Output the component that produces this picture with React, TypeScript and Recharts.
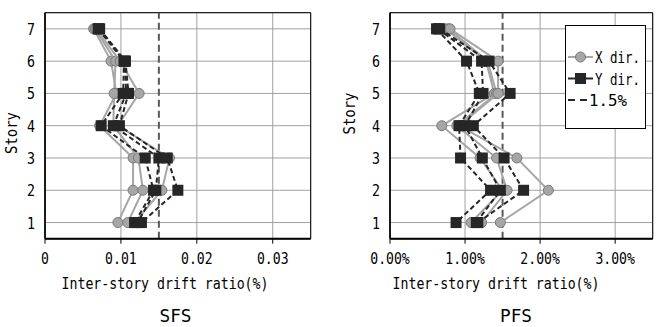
import React from 'react';
import {
  ScatterChart,
  Scatter,
  XAxis,
  YAxis,
  CartesianGrid,
  ReferenceLine,
  ReferenceArea,
  Legend,
} from 'recharts';

// story order as plotted, top to bottom
const stories = [7, 6, 5, 4, 3, 2, 1];
const storyTicks = [1, 2, 3, 4, 5, 6, 7];

// SFS, drift ratio
const sfsX1 = [0.0064, 0.0087, 0.0094, 0.0072, 0.0116, 0.0116, 0.0096];
const sfsX2 = [0.0066, 0.0093, 0.0091, 0.009, 0.0123, 0.0129, 0.0109];
const sfsX3 = [0.0067, 0.0099, 0.0124, 0.0096, 0.0164, 0.0154, 0.0118];
const sfsY1 = [0.007, 0.0104, 0.0103, 0.0074, 0.0132, 0.0143, 0.0118];
const sfsY2 = [0.0071, 0.0105, 0.0107, 0.009, 0.015, 0.0146, 0.0122];
const sfsY3 = [0.0072, 0.0106, 0.011, 0.0098, 0.0161, 0.0175, 0.0127];
const sfsTicks = [0, 0.01, 0.02, 0.03];

// PFS, drift ratio in %
const pfsX1 = [0.74, 1.28, 1.39, 0.69, 1.2, 1.5, 1.08];
const pfsX2 = [0.78, 1.3, 1.42, 0.89, 1.42, 1.56, 1.22];
const pfsX3 = [0.8, 1.44, 1.44, 0.92, 1.69, 2.11, 1.47];
const pfsY1 = [0.62, 1.02, 1.19, 0.92, 0.94, 1.34, 0.88];
const pfsY2 = [0.64, 1.22, 1.24, 1.0, 1.23, 1.47, 1.15];
const pfsY3 = [0.66, 1.32, 1.6, 1.11, 1.52, 1.78, 1.17];
const pfsTicks = [0, 1, 2, 3];

const legendNames = ['X dir.', 'Y dir.', '1.5%'];
const xTitle = 'Inter-story drift ratio(%)';
const yTitle = 'Story';
const panelNames = ['SFS', 'PFS'];

const FONT = '"DejaVu Sans Mono", monospace';
const GRAY = '#a6a6a6';
const DARK = '#262626';

const toPoints = (vals: number[]) => vals.map((v, i) => ({ v, s: stories[i] }));

function T({ x, y, len, size = 16, anchor = 'middle', rotate, children }: any) {
  return (
    <text
      x={x}
      y={y}
      fontSize={size}
      fontFamily={FONT}
      fill="#000"
      textAnchor={anchor}
      textLength={len}
      lengthAdjust="spacingAndGlyphs"
      transform={rotate}
    >
      {children}
    </text>
  );
}

const circleShape = (p: any) => (
  <circle cx={p.cx} cy={p.cy} r={5} fill={GRAY} stroke="#7a7a7a" strokeWidth={1} />
);
const squareShape = (p: any) => (
  <rect x={p.cx - 5.5} y={p.cy - 5.5} width={11} height={11} fill={DARK} />
);

function LegendBox() {
  return (
    <svg width={86} height={104} style={{ display: 'block', overflow: 'visible' }}>
      <rect x={0.5} y={0.5} width={80} height={103} fill="#fff" stroke="#000" strokeWidth={1} />
      <line x1={3} y1={32} x2={28} y2={32} stroke={GRAY} strokeWidth={2} />
      <circle cx={15.5} cy={32} r={5} fill={GRAY} stroke="#7a7a7a" />
      <T x={30} y={38} len={45} anchor="start">{legendNames[0]}</T>
      <line x1={3} y1={53.5} x2={28} y2={53.5} stroke={DARK} strokeWidth={2} />
      <rect x={10} y={48} width={11} height={11} fill={DARK} />
      <T x={30} y={59.5} len={45} anchor="start">{legendNames[1]}</T>
      <line x1={3} y1={75} x2={22} y2={75} stroke={DARK} strokeWidth={2} strokeDasharray="7 5" />
      <T x={24} y={81} len={38} anchor="start">{legendNames[2]}</T>
    </svg>
  );
}

function Panel({
  width,
  yAxisWidth,
  marginRight,
  xMax,
  xTicks,
  fmt,
  xs,
  ys,
  tickRight,
  showLegend,
}: any) {
  const xTick = (p: any) => {
    const s = fmt(p.payload.value);
    return <T x={p.x} y={264} len={s.length * 7.9}>{s}</T>;
  };
  const yTick = (p: any) => (
    <T x={tickRight} y={p.y + 6} len={8} anchor="end">{String(p.payload.value)}</T>
  );
  return (
    <ScatterChart
      width={width}
      height={327}
      margin={{ top: 12.7, right: marginRight, bottom: 58.3, left: 0 }}
    >
      <CartesianGrid stroke="#a0a0a0" strokeWidth={1} />
      <XAxis
        type="number"
        dataKey="v"
        domain={[0, xMax]}
        ticks={xTicks}
        height={30}
        tick={xTick}
        tickSize={5}
        tickLine={{ stroke: '#000' }}
        axisLine={{ stroke: '#000', strokeWidth: 2 }}
        allowDataOverflow
      />
      <YAxis
        type="number"
        dataKey="s"
        domain={[0.5, 7.5]}
        ticks={storyTicks}
        width={yAxisWidth}
        tick={yTick}
        tickLine={false}
        axisLine={{ stroke: '#000', strokeWidth: 1.5 }}
        allowDataOverflow
      />
      <ReferenceArea
        x1={0}
        x2={xMax}
        y1={0.5}
        y2={7.5}
        fill="none"
        fillOpacity={0}
        stroke="#000"
        strokeWidth={1}
      />
      <ReferenceLine
        x={xTicks[1] * 1.5}
        stroke="#595959"
        strokeWidth={2}
        strokeDasharray="7 4"
      />
      {xs.map((vals: number[], i: number) => (
        <Scatter
          key={`x${i}`}
          data={toPoints(vals)}
          line={{ stroke: GRAY, strokeWidth: 2 }}
          shape={circleShape}
          isAnimationActive={false}
        />
      ))}
      {ys.map((vals: number[], i: number) => (
        <Scatter
          key={`y${i}`}
          data={toPoints(vals)}
          line={{ stroke: DARK, strokeWidth: 2, strokeDasharray: '5 3' }}
          shape={squareShape}
          isAnimationActive={false}
        />
      ))}
      {showLegend && (
        <Legend
          layout="horizontal"
          align="center"
          verticalAlign="middle"
          content={() => <LegendBox />}
          wrapperStyle={{ left: 235, top: 25, width: 86, height: 104 }}
        />
      )}
    </ScatterChart>
  );
}

export default function App() {
  return (
    <div style={{ position: 'absolute', left: 0, top: 0, width: 661, height: 327, background: '#fff' }}>
      <div style={{ position: 'absolute', left: 0, top: 0 }}>
        <Panel
          width={330}
          yAxisWidth={45}
          marginRight={19.3}
          xMax={0.035}
          xTicks={sfsTicks}
          fmt={(v: number) => (v === 0 ? '0' : v.toFixed(2))}
          xs={[sfsX1, sfsX2, sfsX3]}
          ys={[sfsY1, sfsY2, sfsY3]}
          tickRight={35}
          showLegend={false}
        />
      </div>
      <div style={{ position: 'absolute', left: 330, top: 0 }}>
        <Panel
          width={331}
          yAxisWidth={60}
          marginRight={8.3}
          xMax={3.5}
          xTicks={pfsTicks}
          fmt={(v: number) => `${v.toFixed(2)}%`}
          xs={[pfsX1, pfsX2, pfsX3]}
          ys={[pfsY1, pfsY2, pfsY3]}
          tickRight={50}
          showLegend
        />
      </div>
      <svg width={661} height={327} style={{ position: 'absolute', left: 0, top: 0, pointerEvents: 'none' }}>
        <T x={165} y={289} len={207}>{xTitle}</T>
        <T x={496} y={289} len={207}>{xTitle}</T>
        <T x={23} y={139} len={42} rotate="rotate(-90 17 139)">{yTitle}</T>
        <T x={361} y={119.5} len={42} rotate="rotate(-90 355 119.5)">{yTitle}</T>
        <T x={175.5} y={322} len={32} size={18}>{panelNames[0]}</T>
        <T x={516} y={322} len={32} size={18}>{panelNames[1]}</T>
      </svg>
    </div>
  );
}
